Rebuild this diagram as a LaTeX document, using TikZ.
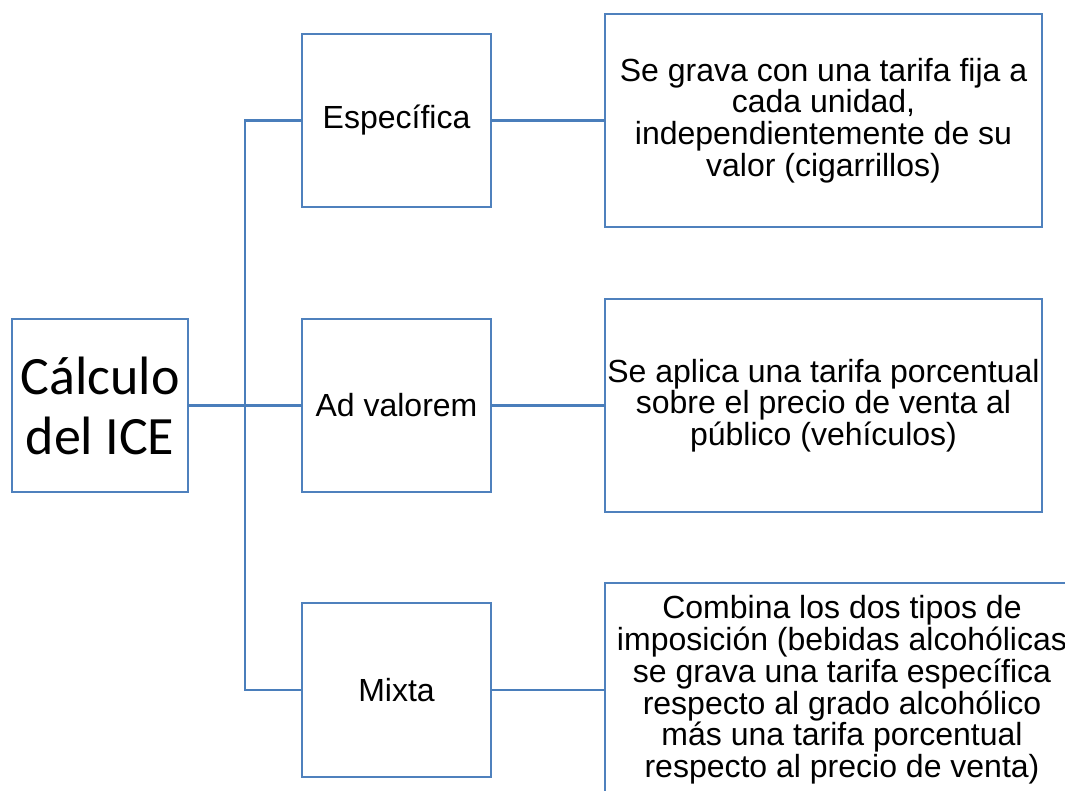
\documentclass[tikz,border=0pt]{standalone}
\usepackage{fontspec}
\setmainfont{Liberation Sans}
\newfontfamily\calibrifont{Carlito}
\definecolor{boxblue}{HTML}{4F81BD}
\definecolor{lineblue}{HTML}{4A7EBB}
\begin{document}
\begin{tikzpicture}[x=0.75pt,y=-0.75pt,
  box/.style={draw=boxblue,line width=1.7pt,inner sep=0pt,outer sep=0pt,align=center,
    font=\fontsize{24}{23.8}\selectfont,text=black},
  midbox/.style={box,minimum width=141.75pt,minimum height=129.75pt},
  descbox/.style={box,minimum width=327.75pt,minimum height=159.75pt},
  link/.style={draw=lineblue,line width=1.7pt}]
\useasboundingbox (0,0) rectangle (1065,791);
\clip (0,0) rectangle (1065,791);
\node[box,minimum width=132pt,minimum height=129.75pt,font=\calibrifont\fontsize{40.5}{45}\selectfont] (calc) at (100,405.5) {Cálculo\\del ICE};
\node[midbox] (esp) at (396.5,120.5) {Específica};
\node[midbox] (adv) at (396.5,405.5) {Ad valorem};
\node[midbox,minimum height=130.5pt] (mix) at (396.5,690) {Mixta};
\node[descbox] (d1) at (823.5,120.5) {Se grava con una tarifa fija a\\cada unidad,\\independientemente de su\\valor (cigarrillos)};
\node[descbox] (d2) at (823.5,405.5) {Se aplica una tarifa porcentual\\sobre el precio de venta al\\público (vehículos)};
\node[box,minimum width=355.5pt,minimum height=160.5pt] (d3) at (842,690) {Combina los dos tipos de\\imposición (bebidas alcohólicas\\se grava una tarifa específica\\respecto al grado alcohólico\\más una tarifa porcentual\\respecto al precio de venta)};
\coordinate (bus) at (245,405.5);
\draw[link] (calc.east) -- (adv.west);
\draw[link] (esp.west) -| (bus) |- (mix.west);
\draw[link] (esp.east) -- (d1.west);
\draw[link] (adv.east) -- (d2.west);
\draw[link] (mix.east) -- (d3.west);
\end{tikzpicture}
\end{document}
